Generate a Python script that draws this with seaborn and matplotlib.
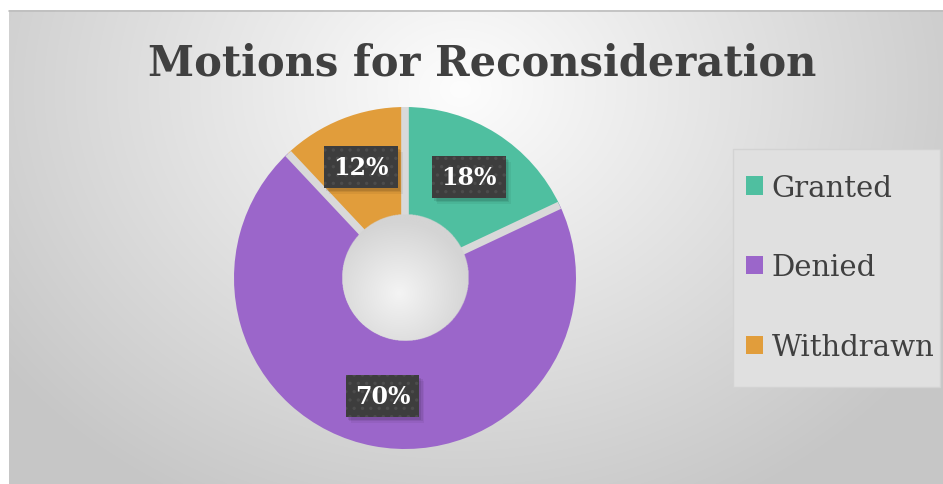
import numpy as np
import matplotlib
matplotlib.use("Agg")
import matplotlib.pyplot as plt
import seaborn as sns
from matplotlib.patches import Patch, Rectangle
from matplotlib.transforms import IdentityTransform

categories = ["Granted", "Denied", "Withdrawn"]
values = [18, 70, 12]
pct_labels = ["18%", "70%", "12%"]
colors = ["#4FBFA0", "#9B66CA", "#E19D3B"]
title = "Motions for Reconsideration"

sns.set_theme(style="white")
plt.rcParams["font.family"] = ["DejaVu Serif"]
plt.rcParams["hatch.linewidth"] = 1.2

W, H = 943, 485
fig = plt.figure(figsize=(W / 100, H / 100), dpi=100)
fig.patch.set_facecolor("white")

# background with radial gradient
bg = fig.add_axes([0, 0, 1, 1])
x0, y0 = 9, 11
yy, xx = np.mgrid[y0:H, x0:W]
d = np.sqrt(((xx - 460) / 520.0) ** 2 + ((yy - 90) / 430.0) ** 2)
v = np.clip(253 - 50 * d, 198, 255) / 255.0
img = np.dstack([v, v, v])
bg.imshow(img, extent=[x0, W, H, y0], aspect="auto", interpolation="bilinear", zorder=0)
bg.plot([x0, W], [y0 + 0.5, y0 + 0.5], color="#bdbdbd", lw=1.2, zorder=1)
bg.set_xlim(0, W)
bg.set_ylim(H, 0)
bg.axis("off")

# title
fig.text(482 / W, 1 - 63 / H, title, ha="center", va="center",
         fontsize=30, fontweight="bold", color="#404040")

# donut
R = 190
cx, cy = 405, 279
RADIUS_PX = 171
ax = fig.add_axes([(cx - R) / W, (H - cy - R) / H, 2 * R / W, 2 * R / H])
ax.patch.set_alpha(0)

hole_r = 0.365
wedges, _ = ax.pie(values, colors=colors, startangle=90, counterclock=False,
                   radius=1.0,
                   wedgeprops=dict(width=1 - hole_r, edgecolor="none", linewidth=0))

# gaps between slices
total = sum(values)
bounds = 90 - np.cumsum([0] + values[:-1]) / total * 360
for b in bounds:
    c, s = np.cos(np.radians(b)), np.sin(np.radians(b))
    ax.plot([hole_r * 0.9 * c, 0.998 * c], [hole_r * 0.9 * s, 0.998 * s],
            color="#d9d9d9", lw=5.5, solid_capstyle="butt", zorder=3)

# hole gradient
hy, hx = np.mgrid[-1:1:300j, -1:1:300j]
hd = np.sqrt((hx + 0.1) ** 2 + (hy - 0.25) ** 2)
hv = np.clip(244 - 28 * hd, 212, 255) / 255.0
himg = np.dstack([hv, hv, hv, (hx ** 2 + hy ** 2 <= 1).astype(float)])
ax.imshow(himg, extent=[-hole_r - 0.005, hole_r + 0.005, -hole_r - 0.005, hole_r + 0.005],
          origin="upper", zorder=4, interpolation="bilinear")

# percentage labels
texts = []
start = 90.0
for val, lab in zip(values, pct_labels):
    ang = start - val / total * 360 / 2
    start -= val / total * 360
    r = 0.70
    tx, ty = r * np.cos(np.radians(ang)), r * np.sin(np.radians(ang))
    t = ax.text(tx, ty, lab, ha="center", va="center", fontsize=17,
                fontweight="bold", color="white", zorder=6,
                bbox=dict(boxstyle="square,pad=0.38", facecolor="#3d3d3d",
                          edgecolor="#4c4c4c", linewidth=0, hatch=".."))
    texts.append(t)

ax.set_xlim(-R / RADIUS_PX, R / RADIUS_PX)
ax.set_ylim(-R / RADIUS_PX, R / RADIUS_PX)
ax.set_aspect("equal")
ax.axis("off")
ax.set_autoscale_on(False)

# drop shadows behind label boxes
fig.canvas.draw()
for t in texts:
    bb = t.get_bbox_patch().get_window_extent()
    for k, a in [(6, 0.05), (4.5, 0.07), (3, 0.09)]:
        ax.add_patch(Rectangle((bb.x0 + k - 1, bb.y0 - k), bb.width, bb.height,
                               transform=IdentityTransform(), facecolor="black",
                               alpha=a, edgecolor="none", zorder=5, clip_on=False))

# legend box
lx0, ly0, lx1, ly1 = 733, 150, 940, 388
bg.add_patch(Rectangle((lx0, ly0), lx1 - lx0, ly1 - ly0, facecolor="#e0e0e0",
                       edgecolor="#d3d3d3", lw=1, zorder=2))
handles = [Patch(facecolor=c, edgecolor="none") for c in colors]
leg = fig.legend(handles, categories, loc="upper left",
                 bbox_to_anchor=(731 / W, 1 - 160 / H), frameon=False,
                 fontsize=21, labelspacing=1.78, handlelength=0.6, handleheight=0.6,
                 handletextpad=0.3, labelcolor="#404040", borderpad=0)

fig.savefig("out.png", dpi=100)
